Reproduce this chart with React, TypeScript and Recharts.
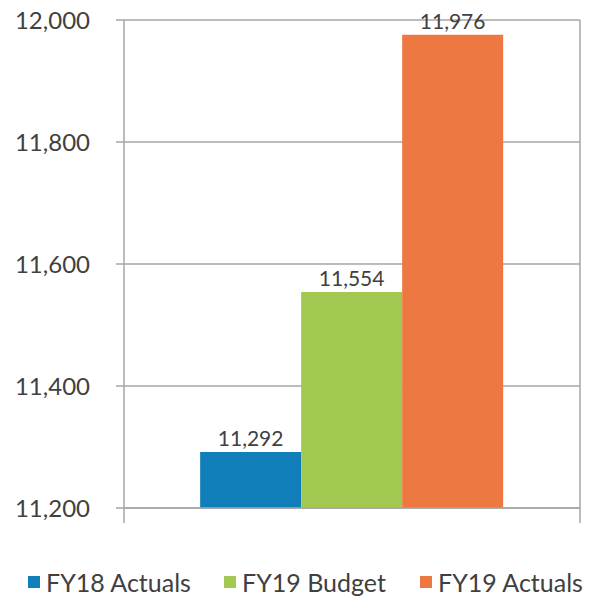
import React from 'react';
import { BarChart, Bar, XAxis, YAxis, CartesianGrid, Legend, LabelList } from 'recharts';

const seriesNames = ['FY18 Actuals', 'FY19 Budget', 'FY19 Actuals'];
const seriesKeys = ['fy18a', 'fy19b', 'fy19a'];
const seriesValues = [11292, 11554, 11976];
const seriesColors = ['#107EB8', '#A3C851', '#ED7841'];
const yTicks = [11200, 11400, 11600, 11800, 12000];
const categories = [''];

const data = categories.map((c) =>
  seriesKeys.reduce((acc: any, k, i) => {
    acc[k] = seriesValues[i];
    return acc;
  }, { name: c } as any)
);

const FONT = 'Lato, "Open Sans", sans-serif';
const TEXT = '#404040';
const GRID = '#A6A6A6';

const fmt = (v: number) => v.toLocaleString('en-US');

// Draws Excel-style category boundary tick marks below the axis line
const BoundaryTick = (props: any) => {
  const { x, y, width, visibleTicksCount } = props;
  const band = Number(width) / Math.max(1, Number(visibleTicksCount) || 1);
  const left = x - band / 2;
  const right = x + band / 2;
  return (
    <g>
      <line x1={left} x2={left} y1={y} y2={y + 15} stroke={GRID} strokeWidth={1.5} />
      <line x1={right} x2={right} y1={y} y2={y + 15} stroke={GRID} strokeWidth={1.5} />
    </g>
  );
};

const LegendContent = () => (
  <div style={{ display: 'flex', height: 58, paddingTop: 31, boxSizing: 'border-box', paddingLeft: 28, fontFamily: FONT, fontSize: 25, color: TEXT }}>
    {seriesNames.map((n, i) => (
      <div key={n} style={{ display: 'flex', alignItems: 'center', width: i < 2 ? 196 : 170, flexShrink: 0, height: 26 }}>
        <span style={{ display: 'inline-block', width: 12, height: 12, background: seriesColors[i], marginRight: 6, flexShrink: 0 }} />
        <span style={{ lineHeight: '26px', whiteSpace: 'nowrap' }}>{n}</span>
      </div>
    ))}
  </div>
);

export default function App() {
  return (
    <div style={{ position: 'absolute', left: 0, top: 0 }}>
      <BarChart
        width={600}
        height={596}
        data={data}
        margin={{ top: 20, right: 0, left: 0, bottom: 0 }}
        barCategoryGap="16.7%"
        barGap={0}
      >
        <CartesianGrid stroke={GRID} strokeWidth={1.5} vertical={false} horizontal />
        <XAxis
          dataKey="name"
          height={30}
          tickSize={0}
          tickMargin={0}
          tickLine={false}
          axisLine={{ stroke: GRID, strokeWidth: 1.5 }}
          tick={<BoundaryTick />}
        />
        <YAxis
          domain={[11200, 12000]}
          ticks={yTicks}
          width={124}
          tickSize={8}
          tickMargin={26}
          tickFormatter={fmt}
          axisLine={{ stroke: GRID, strokeWidth: 1.5 }}
          tickLine={{ stroke: GRID, strokeWidth: 1.5 }}
          tick={{ fill: TEXT, fontSize: 24, fontFamily: FONT }}
          allowDataOverflow
        />
        <YAxis
          yAxisId="r"
          orientation="right"
          domain={[11200, 12000]}
          ticks={yTicks}
          width={20}
          tick={false}
          tickLine={false}
          axisLine={{ stroke: GRID, strokeWidth: 1.5 }}
        />
        <Legend verticalAlign="bottom" content={<LegendContent />} />
        {seriesKeys.map((k, i) => (
          <Bar key={k} dataKey={k} name={seriesNames[i]} fill={seriesColors[i]} isAnimationActive={false}>
            <LabelList dataKey={k} position="top" offset={6} formatter={(v: any) => fmt(Number(v))} style={{ fill: TEXT, fontSize: 21, fontFamily: FONT }} />
          </Bar>
        ))}
      </BarChart>
    </div>
  );
}
